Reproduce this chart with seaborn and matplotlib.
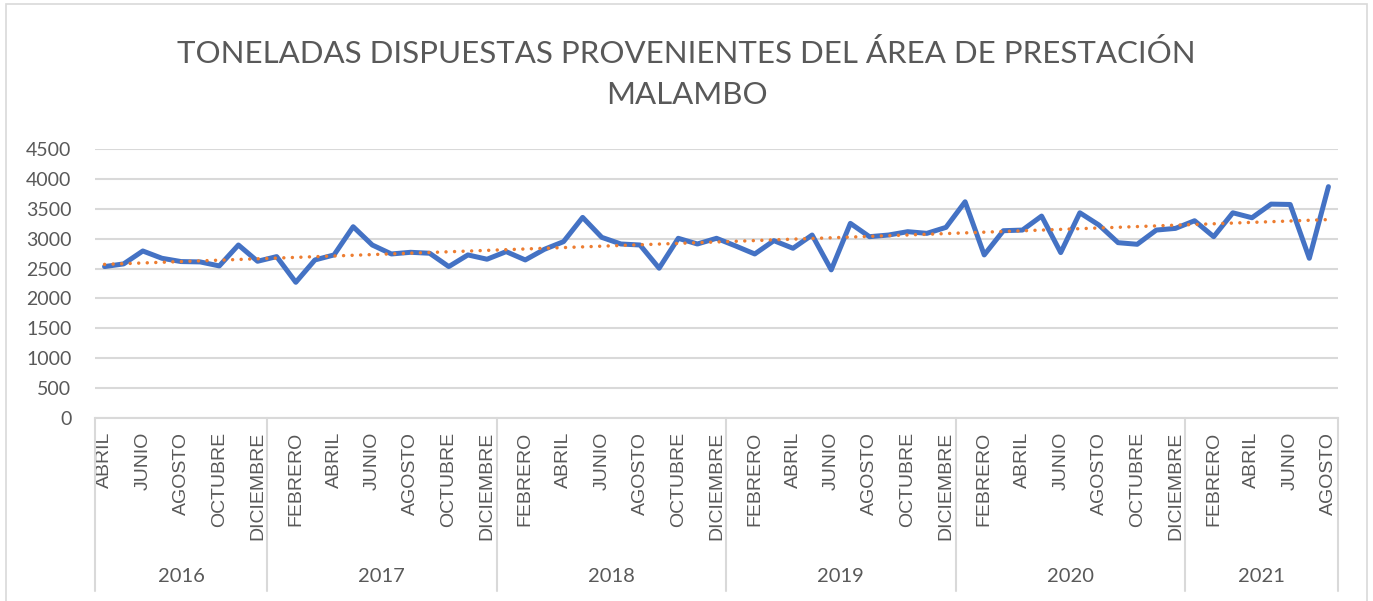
import numpy as np
import pandas as pd
import matplotlib
matplotlib.use("Agg")
import matplotlib.pyplot as plt
import matplotlib.transforms as mtransforms
from matplotlib.patches import Rectangle
import seaborn as sns

# Monthly tonnage, April 2016 - August 2021
years = ["2016", "2017", "2018", "2019", "2020", "2021"]
months_per_year = [9, 12, 12, 12, 12, 8]
month_names = ["ENERO", "FEBRERO", "MARZO", "ABRIL", "MAYO", "JUNIO", "JULIO",
               "AGOSTO", "SEPTIEMBRE", "OCTUBRE", "NOVIEMBRE", "DICIEMBRE"]
first_month = 4  # April 2016

t2016 = [2533, 2578, 2794, 2672, 2617, 2611, 2544, 2894, 2622]
t2017 = [2700, 2270, 2644, 2728, 3200, 2894, 2744, 2772, 2756, 2533, 2728, 2656]
t2018 = [2783, 2644, 2822, 2950, 3356, 3022, 2911, 2894, 2506, 3006, 2911, 3006]
t2019 = [2878, 2744, 2967, 2839, 3061, 2478, 3256, 3033, 3061, 3117, 3089, 3189]
t2020 = [3617, 2728, 3133, 3144, 3378, 2767, 3433, 3228, 2933, 2906, 3144, 3172]
t2021 = [3300, 3033, 3433, 3350, 3578, 3572, 2672, 3870]

y_ticks = [0, 500, 1000, 1500, 2000, 2500, 3000, 3500, 4000, 4500]
title = "TONELADAS DISPUESTAS PROVENIENTES DEL ÁREA DE PRESTACIÓN\nMALAMBO"

toneladas = t2016 + t2017 + t2018 + t2019 + t2020 + t2021
n = len(toneladas)
labels = [month_names[(first_month - 1 + i) % 12] for i in range(n)]
df = pd.DataFrame({"idx": np.arange(n), "toneladas": toneladas, "mes": labels})

sns.set_theme(style="white")
plt.rcParams["font.family"] = ["Lato", "DejaVu Sans"]

GRID = "#d9d9d9"
TEXT = "#595959"
BLUE = "#4472C4"
ORANGE = "#ED7D31"

W, H = 1373, 601
fig = plt.figure(figsize=(W / 100, H / 100), dpi=100)
fig.patch.set_facecolor("white")

# outer chart frame
fig.add_artist(Rectangle((6 / W, -0.05), (1367 - 6) / W, 1.05 - 4 / H,
                         transform=fig.transFigure, fill=False,
                         edgecolor=GRID, linewidth=1.2))

left, right, top, bottom = 95, 1338, 149, 418
ax = fig.add_axes([left / W, 1 - bottom / H, (right - left) / W, (bottom - top) / H])

sns.lineplot(data=df, x="idx", y="toneladas", ax=ax, color=BLUE, linewidth=3.6,
             solid_joinstyle="round", solid_capstyle="round", zorder=3)
sns.regplot(data=df, x="idx", y="toneladas", ax=ax, scatter=False, ci=None,
            line_kws=dict(color=ORANGE, linewidth=2.5,
                          linestyle=(0, (0.01, 2.45)), dash_capstyle="round",
                          zorder=4))

ax.set_xlim(-0.5, n - 0.5)
ax.set_ylim(0, 4500)
ax.set_yticks(y_ticks)
ax.set_yticklabels([str(v) for v in y_ticks])
ax.yaxis.grid(True, color=GRID, linewidth=1.5)
ax.set_axisbelow(True)
for side in ["left", "right", "top"]:
    ax.spines[side].set_visible(False)
ax.spines["bottom"].set_color(GRID)
ax.spines["bottom"].set_linewidth(1.5)
ax.set_xlabel("")
ax.set_ylabel("")

ax.tick_params(axis="y", length=0, pad=17, labelsize=14, labelcolor=TEXT)
tick_idx = np.arange(0, n, 2)
ax.set_xticks(tick_idx)
ax.set_xticklabels([labels[i] for i in tick_idx], rotation=90,
                   fontfamily="Liberation Sans", fontsize=14, color=TEXT)
ax.tick_params(axis="x", length=0, pad=10)

# year groups below the month labels
trans = mtransforms.blended_transform_factory(ax.transData, ax.transAxes)
sep_bottom = -(591 - bottom) / (bottom - top)
year_y = -(577 - bottom) / (bottom - top)
start = 0
bounds = [-0.5]
for yr, cnt in zip(years, months_per_year):
    end = start + cnt
    bounds.append(end - 0.5)
    ax.text((start + end - 1) / 2, year_y, yr, transform=trans, ha="center",
            va="center", fontsize=14.5, color=TEXT)
    start = end
for b in bounds:
    ax.plot([b, b], [0, sep_bottom], transform=trans, color=GRID,
            linewidth=1.5, clip_on=False)

fig.text(686.5 / W, 1 - 74 / H, title, ha="center", va="center",
         fontsize=22.5, color=TEXT, fontweight="normal", linespacing=1.55)

fig.savefig("out.png", dpi=100, facecolor="white")
